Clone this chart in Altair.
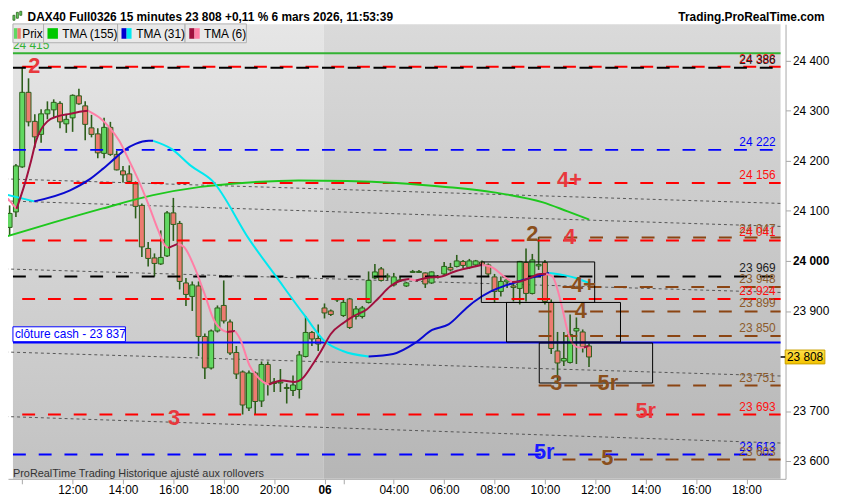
import altair as alt
import pandas as pd

FONT = "Liberation Sans"

# ---------------- data ----------------
bar_idx = list(range(-10, 83))  # 15-minute bars, 0 = 12:00 (5 March)
opens = [24067, 24098, 24188, 24337, 24279, 24253, 24294, 24302, 24315, 24274,
         24286, 24330, 24310, 24266, 24254, 24215, 24267, 24213, 24180, 24174,
         24154, 24111, 24025, 24006, 23994, 24010, 24096, 24075, 23956, 23929,
         23950, 23849, 23786, 23860, 23911, 23878, 23817, 23778, 23706, 23776,
         23720, 23793, 23755, 23756, 23747, 23741, 23743, 23809, 23857, 23845,
         23906, 23900, 23922, 23891, 23924, 23889, 23889, 23917, 23966, 23984,
         23968, 23952, 23962, 23950, 23977, 23977, 23976, 23956, 23968, 23974,
         23987, 23989, 23999, 23987, 23992, 23998, 23992, 23968, 23939, 23958,
         23950, 23945, 23997, 23935, 23990, 23997, 23917, 23820, 23800, 23797,
         23860, 23858, 23830]
closes = [24095, 24190, 24337, 24278, 24248, 24294, 24302, 24317, 24278, 24283,
          24331, 24314, 24273, 24253, 24216, 24267, 24213, 24182, 24172, 24159,
          24109, 24028, 24005, 23995, 24007, 24096, 24073, 23959, 23933, 23952,
          23849, 23786, 23860, 23906, 23880, 23816, 23774, 23712, 23776, 23719,
          23793, 23755, 23758, 23758, 23745, 23752, 23812, 23857, 23844, 23834,
          23896, 23893, 23924, 23917, 23867, 23904, 23906, 23961, 23978, 23961,
          23970, 23968, 23960, 23956, 23979, 23979, 23954, 23978, 23969, 23989,
          23982, 24000, 23991, 24000, 24000, 23993, 23974, 23939, 23959, 23962,
          23947, 23999, 23935, 24002, 23993, 23919, 23825, 23796, 23805, 23853,
          23865, 23829, 23808]
highs = [24111, 24194, 24388, 24365, 24293, 24303, 24319, 24323, 24319, 24293,
         24333, 24344, 24319, 24292, 24265, 24286, 24278, 24220, 24190, 24191,
         24159, 24115, 24038, 24015, 24061, 24100, 24126, 24080, 23966, 23959,
         23959, 23855, 23863, 23911, 23961, 23883, 23830, 23781, 23781, 23779,
         23799, 23799, 23766, 23784, 23755, 23771, 23820, 23890, 23860, 23873,
         23915, 23903, 23926, 23924, 23926, 23910, 23910, 23979, 23994, 23988,
         23975, 23976, 23968, 23958, 23982, 23982, 23977, 23979, 23972, 23998,
         23996, 24012, 24002, 24004, 24002, 24001, 23995, 23974, 23969, 23964,
         23959, 24000, 24025, 24014, 24048, 24002, 23923, 23858, 23858, 23893,
         23887, 23863, 23836]
lows = [24051, 24088, 24186, 24269, 24226, 24236, 24283, 24286, 24265, 24256,
        24258, 24312, 24241, 24247, 24205, 24205, 24210, 24181, 24157, 24155,
        24085, 24008, 23989, 23969, 23992, 24008, 24040, 23943, 23910, 23900,
        23810, 23764, 23783, 23857, 23875, 23812, 23764, 23693, 23700, 23693,
        23708, 23731, 23738, 23738, 23715, 23730, 23725, 23807, 23830, 23820,
        23885, 23890, 23918, 23888, 23864, 23883, 23885, 23915, 23964, 23959,
        23962, 23949, 23958, 23948, 23976, 23976, 23946, 23954, 23965, 23972,
        23979, 23987, 23986, 23984, 23989, 23990, 23970, 23917, 23929, 23946,
        23919, 23913, 23919, 23933, 23982, 23913, 23814, 23755, 23790, 23795,
        23794, 23817, 23788]

tma155_x = [-10.7, -3.0, 4.8, 12.6, 20.3, 28.1, 35.9, 43.6, 51.4, 59.2, 66.9, 74.7, 78.6, 82.0]
tma155_y = [24048, 24077, 24105, 24131, 24148, 24157, 24161, 24160, 24156, 24148, 24137, 24117, 24099, 24083]

CYAN, BLUE = "#00e8f0", "#0a0ad0"
tma31_segments = [
    (CYAN, [-10.7, -6.1], [24133, 24119]),
    (BLUE, [-6.1, -0.4, 2.8, 4.8, 6.9, 8.4, 10.0, 12.1, 12.8],
     [24119, 24141, 24164, 24184, 24207, 24223, 24234, 24240, 24240]),
    (CYAN, [12.8, 15.7, 18.8, 22.2, 28.1, 32.3, 36.9, 40.0, 42.9, 47.0],
     [24240, 24224, 24190, 24160, 24042, 23969, 23890, 23840, 23820, 23809]),
    (BLUE, [47.0, 50.9, 54.5, 57.1, 59.7, 62.3, 63.8, 66.4, 69.0, 71.6, 74.2, 75.7],
     [23809, 23814, 23837, 23862, 23873, 23903, 23919, 23939, 23952, 23962, 23971, 23976]),
    (CYAN, [75.7, 77.8, 79.9, 81.9], [23976, 23972, 23966, 23956]),
]

PINK, DRED = "#ff7fa6", "#a0103e"
tma6_segments = [
    (PINK, [-10.7, -8.9], [24131, 24104]),
    (DRED, [-8.9, -7.6, -6.6, -5.8, -5.0, -4.0, -2.4, -0.4, 1.7, 2.5],
     [24104, 24154, 24200, 24240, 24263, 24279, 24289, 24294, 24299, 24300]),
    (PINK, [2.5, 4.3, 5.9, 7.4, 9.0, 10.5, 12.1, 13.6, 14.6, 15.2],
     [24300, 24286, 24266, 24240, 24200, 24160, 24111, 24061, 24032, 24026]),
    (DRED, [15.2, 16.7], [24026, 24034]),
    (PINK, [16.7, 17.7, 19.3, 20.9, 22.4, 24.0, 24.5],
     [24034, 24028, 23989, 23936, 23883, 23860, 23858]),
    (DRED, [24.5, 25.8], [23858, 23860]),
    (PINK, [25.8, 26.6, 28.1, 29.7, 30.7, 31.2], [23860, 23844, 23791, 23764, 23755, 23753]),
    (DRED, [31.2, 33.3, 35.3, 36.4, 38.0, 39.5, 41.0, 43.1, 44.7, 46.7, 48.6, 50.4, 52.4, 53.5],
     [23753, 23761, 23758, 23764, 23791, 23821, 23854, 23877, 23890, 23903, 23926, 23949, 23962, 23964]),
    (PINK, [53.5, 54.5], [23964, 23961]),
    (DRED, [54.5, 56.1, 58.6, 60.7, 62.8, 64.9], [23961, 23966, 23969, 23979, 23986, 23992]),
    (PINK, [64.9, 66.1, 66.9, 68.5, 69.8], [23992, 23990, 23985, 23969, 23958]),
    (DRED, [69.8, 71.1, 72.6, 74.2, 75.2], [23958, 23959, 23966, 23974, 23974]),
    (PINK, [75.2, 76.2, 77.0, 77.8, 78.6, 79.3, 80.4, 81.2],
     [23974, 23969, 23943, 23903, 23860, 23837, 23827, 23827]),
    (DRED, [81.2, 81.9], [23827, 23830]),
]

trend_start = [-10.7, -10.7, -10.7, -10.7, -10.7]
trend_end = [112.42, 112.42, 112.42, 112.42, 112.42]
trend_p0 = [24164, 24120, 23984, 23818, 23689]
trend_p1 = [24115, 24069, 23937, 23770, 23636]

RED, BLACK, BLUE_L, BROWN = "#ff0000", "#000000", "#0000ff", "#8b4513"
level_price = [24388, 24386, 24222, 24156, 24047, 24041, 23969, 23948, 23924,
               23899, 23850, 23751, 23693, 23613, 23603]
level_start = [-8, -9.47, -9.47, -8, 74, -8, -9.47, 77.8, -8, 74, 74, 74, -8, -9.47, 77.8]
level_color = [RED, BLACK, BLUE_L, RED, BROWN, RED, BLACK, BROWN, RED, BROWN, BROWN,
               BROWN, RED, BLUE_L, BROWN]

solid_price = [24415, 23837]
solid_color = ["#33b233", "#0000ff"]

TXT_BROWN = "#8b5a2b"
label_text = ["24 388", "24 386", "24 222", "24 156", "24 047", "24 041", "23 969", "23 948",
              "23 924", "23 899", "23 850", "23 751", "23 693", "23 613", "23 603"]
label_price = [24388, 24386, 24222, 24156, 24047, 24041, 23969, 23948, 23924, 23899,
               23850, 23751, 23693, 23613, 23603]
label_color = ["#ff1010", "#222222", "#0000ff", "#ff1010", TXT_BROWN, "#ff1010", "#222222",
               TXT_BROWN, "#ff1010", TXT_BROWN, TXT_BROWN, TXT_BROWN, "#ff1010", "#0000ff", TXT_BROWN]

box_x0 = [64.9, 68.9, 74.1]
box_x1 = [82.9, 87.0, 92.1]
box_p0 = [23917, 23838, 23756]
box_p1 = [23998, 23917, 23836]

A_RED, A_BROWN, A_BLUE = "#e8383d", "#8a4f1c", "#1a1aff"
ann_text = ["2", "3", "4+", "4", "5r", "2", "4+", "4", "3", "5r", "5r", "5"]
ann_color = [A_RED, A_RED, A_RED, A_RED, A_RED, A_BROWN, A_BROWN, A_BROWN, A_BROWN,
             A_BROWN, A_BLUE, A_BROWN]
ann_x = [-6.1, 16.1, 78.9, 78.9, 91.0, 73.0, 81.1, 80.7, 76.8, 85.0, 74.9, 84.9]
ann_p = [24389, 23685, 24161, 24048, 23699, 24054, 23952, 23899, 23755, 23755, 23617, 23605]

tick_vals = [-8, 0, 8, 16, 24, 32, 40, 43, 51, 59, 67, 75, 83, 91, 99, 107]
tick_text = ["", "12:00", "14:00", "16:00", "18:00", "20:00", "06", "", "04:00", "06:00",
             "08:00", "10:00", "12:00", "14:00", "16:00", "18:00"]
# 23 800 is hidden behind the current-price tag in the reference
price_ticks = [23600, 23700, 23900, 24000, 24100, 24200, 24300, 24400]
last_price = 23808
day_break = 39.9

# ---------------- geometry ----------------
W, H = 785, 459
X0, X1 = -9.472, 112.422
Y0, Y1 = 23564.4, 24473.2
PXB = W / (X1 - X0)
PYB = H / (Y1 - Y0)


def PX(px):
    return X0 + px / PXB


def PY(py):
    return Y1 - py / PYB


xs = alt.Scale(domain=[X0, X1], nice=False, zero=False)
ys = alt.Scale(domain=[Y0, Y1], nice=False, zero=False)

lab_expr = ""
for v, t in zip(tick_vals, tick_text):
    lab_expr += f"datum.value == {v} ? '{t}' : "
lab_expr += "''"

AX = alt.Axis(
    values=tick_vals, labelExpr=lab_expr, title=None, grid=False, orient="bottom",
    domainColor="#a8a8a8", tickColor="#a8a8a8", tickSize=5, labelPadding=1,
    labelFont=FONT, labelFontSize=12, labelColor="#000000", labelFlush=False,
    labelOverlap=False,
    labelFontWeight={"condition": {"test": "datum.value == 40", "value": "bold"}, "value": "normal"})
AY = alt.Axis(
    values=price_ticks, orient="right", title=None, grid=False,
    labelExpr="replace(format(datum.value, ','), ',', ' ')",
    domainColor="#a8a8a8", tickColor="#a8a8a8", tickSize=5, labelPadding=2,
    labelFont=FONT, labelFontSize=12, labelColor="#000000", labelOverlap=False,
    labelFlush=False,
    labelFontWeight={"condition": {"test": "datum.value == 24000", "value": "bold"}, "value": "normal"})


def X(f):
    return alt.X(f, type="quantitative", scale=xs, axis=AX)


def Y(f):
    return alt.Y(f, type="quantitative", scale=ys, axis=AY)


LC = alt.Color("c:N", scale=None)


def grad(a, b):
    return {"gradient": "linear", "x1": 0, "y1": 0, "x2": 0, "y2": 1,
            "stops": [{"offset": 0, "color": a}, {"offset": 1, "color": b}]}


def rect_df(x, x2, y, y2, **extra):
    d = {"x": x, "x2": x2, "y": y, "y2": y2}
    d.update(extra)
    return pd.DataFrame(d)


def rect_enc(ch):
    return ch.encode(x=X("x"), x2="x2:Q", y=Y("y"), y2="y2:Q")


# ---------------- background ----------------
bg_left = rect_enc(alt.Chart(rect_df([X0], [day_break], [Y0], [Y1])).mark_rect(
    fill=grad("#e6e6e6", "#c2c2c2")))
bg_right = rect_enc(alt.Chart(rect_df([day_break], [X1], [Y0], [Y1])).mark_rect(
    fill=grad("#dadada", "#b6b6b6")))

# ---------------- trend lines ----------------
trend = rect_enc(alt.Chart(rect_df(trend_start, trend_end, trend_p0, trend_p1)).mark_rule(
    color="#555555", strokeWidth=1, strokeDash=[3, 3]))

# ---------------- candles ----------------
cdf = pd.DataFrame({"i": bar_idx, "o": opens, "h": highs, "l": lows, "cl": closes})
cdf["c"] = ["#62d862" if c >= o else "#ec7b70" for o, c in zip(opens, closes)]
OUT = "#2c5e1a"
wicks = alt.Chart(cdf).mark_rule(color=OUT, strokeWidth=1.6).encode(
    x=X("i"), y=Y("l"), y2="h:Q")
bodies = alt.Chart(cdf).mark_bar(size=5, stroke=OUT, strokeWidth=1).encode(
    x=X("i"), y=Y("o"), y2="cl:Q", fill=alt.Fill("c:N", scale=None))

# ---------------- levels ----------------
lvl_df = pd.DataFrame({"y": level_price, "x": level_start, "c": level_color})
lvl_df["x2"] = X1
levels = alt.Chart(lvl_df).mark_rule(strokeWidth=2, strokeDash=[13, 13]).encode(
    x=X("x"), x2="x2:Q", y=Y("y"), color=LC)
sol_df = pd.DataFrame({"y": solid_price, "c": solid_color})
sol_df["x"] = X0
sol_df["x2"] = X1
solids = alt.Chart(sol_df).mark_rule(strokeWidth=2).encode(
    x=X("x"), x2="x2:Q", y=Y("y"), color=LC)

# ---------------- TMA lines ----------------
t155 = alt.Chart(pd.DataFrame({"x": tma155_x, "y": tma155_y})).mark_line(
    color="#1ec81e", strokeWidth=2, interpolate="monotone", clip=True).encode(x=X("x"), y=Y("y"))


def seg_df(segs):
    rows = []
    for k, (col, sx, sy) in enumerate(segs):
        for a, b in zip(sx, sy):
            rows.append({"x": a, "y": b, "s": f"s{k}", "c": col})
    return pd.DataFrame(rows)


t31 = alt.Chart(seg_df(tma31_segments)).mark_line(
    strokeWidth=2, interpolate="monotone", clip=True).encode(
    x=X("x"), y=Y("y"), detail="s:N", color=LC)
t6 = alt.Chart(seg_df(tma6_segments)).mark_line(
    strokeWidth=2, interpolate="monotone", clip=True).encode(
    x=X("x"), y=Y("y"), detail="s:N", color=LC)

# ---------------- boxes ----------------
boxes = rect_enc(alt.Chart(rect_df(box_x0, box_x1, box_p0, box_p1)).mark_rect(
    fillOpacity=0, stroke="#000000", strokeWidth=1))

# ---------------- texts ----------------
lab_df = pd.DataFrame({"t": label_text, "y": label_price, "c": label_color})
lab_df["x"] = PX(780)
labels = alt.Chart(lab_df).mark_text(align="right", baseline="alphabetic", dy=-4,
                                     font=FONT, fontSize=12).encode(
    x=X("x"), y=Y("y"), text="t:N", color=LC)

ann_df = pd.DataFrame({"t": ann_text, "x": ann_x, "y": ann_p, "c": ann_color})
anns = alt.Chart(ann_df).mark_text(align="center", baseline="middle", font=FONT,
                                   fontSize=22, fontWeight="bold").encode(
    x=X("x"), y=Y("y"), text="t:N", color=LC)


def text_layer(px, py, t, align="left", size=12, weight="normal", color="#000000"):
    return alt.Chart(pd.DataFrame({"x": [PX(px)], "y": [PY(py)], "t": [t]})).mark_text(
        align=align, baseline="middle", font=FONT, fontSize=size, fontWeight=weight,
        color=color).encode(x=X("x"), y=Y("y"), text="t:N")


cl_box = rect_enc(alt.Chart(rect_df([PX(0)], [PX(115)], [PY(305.5)], [PY(320.5)])).mark_rect(
    fill="#ffffff", stroke="#0000ff", strokeWidth=1))
cl_txt = text_layer(2, 313, "clôture cash -  23 837", color="#0000ff")
note = text_layer(0, 454, "ProRealTime Trading  Historique ajusté aux rollovers", size=11, color="#333333")
g_lab = text_layer(0, 21, "24 415", color="#33b233")

# ---------------- legend ----------------
leg_x0 = [0, 31.3, 107, 176]
leg_x1 = [31.3, 107, 176, 238.7]
leg_box = rect_enc(alt.Chart(rect_df([PX(v) for v in leg_x0], [PX(v) for v in leg_x1],
                                     [PY(-0.3)] * 4, [PY(18.7)] * 4)).mark_rect(
    fill="#e9e9e9", stroke="#b0b0b0", strokeWidth=1))
sw_x0 = [1, 4.5, 35.3, 111, 116.2, 180.3, 185.6]
sw_x1 = [4.5, 8, 46, 116.2, 121.3, 185.6, 191]
sw_c = ["#62d862", "#ec7b70", "#00c800", "#0000d0", "#00e8f0", "#a0103e", "#ff7fa6"]
leg_sw = alt.Chart(rect_df([PX(v) for v in sw_x0], [PX(v) for v in sw_x1],
                           [PY(4)] * 7, [PY(14.7)] * 7, c=sw_c)).mark_rect().encode(
    x=X("x"), x2="x2:Q", y=Y("y"), y2="y2:Q", color=LC)
leg_t = alt.Chart(pd.DataFrame({"x": [PX(v) for v in [9.5, 50.3, 126, 195.3]], "y": [PY(9.5)] * 4,
                                "t": ["Prix", "TMA (155)", "TMA (31)", "TMA (6)"]})).mark_text(
    align="left", baseline="middle", font=FONT, fontSize=12, color="#000000").encode(
    x=X("x"), y=Y("y"), text="t:N")

# ---------------- header ----------------
title = text_layer(15, -7, "DAX40 Full0326 15 minutes 23 808 +0,11 % 6 mars 2026, 11:53:39",
                   weight="bold")
brand = text_layer(830, -7, "Trading.ProRealTime.com", align="right", weight="bold")
icon = rect_enc(alt.Chart(rect_df([PX(0), PX(3.5), PX(7)], [PX(2), PX(5.5), PX(9)],
                                  [PY(-4), PY(-6), PY(-9)], [PY(-9), PY(-12), PY(-13)])).mark_rect(
    fill="#62d862", stroke=OUT, strokeWidth=0.8))

# ---------------- current price tag ----------------
half = 7 / PYB
tag = rect_enc(alt.Chart(rect_df([PX(789.7)], [PX(830.3)], [last_price - half],
                                 [last_price + half])).mark_rect(
    fill=grad("#ffe14a", "#f2c200"), stroke="#c9a100", strokeWidth=1))
tag_t = alt.Chart(pd.DataFrame({"x": [PX(810)], "y": [last_price], "t": ["23 808"]})).mark_text(
    align="center", baseline="middle", font=FONT, fontSize=12, color="#000000").encode(
    x=X("x"), y=Y("y"), text="t:N")
tag_tick = alt.Chart(pd.DataFrame({"x": [PX(785)], "x2": [PX(789.7)], "y": [last_price]})).mark_rule(
    color="#000000", strokeWidth=1.5).encode(x=X("x"), x2="x2:Q", y=Y("y"))

chart = alt.layer(
    bg_left, bg_right, trend, wicks, bodies, levels, solids, t155, t31, t6, boxes,
    labels, anns, cl_box, cl_txt, note, g_lab, leg_box, leg_sw, leg_t, title, brand, icon,
    tag, tag_t, tag_tick
).properties(
    width=W, height=H,
    autosize=alt.AutoSizeParams(type="none"),
    padding={"left": 0, "top": 14, "right": 57, "bottom": 19},
    background="#ffffff",
).configure_view(stroke="transparent")

chart.save("out.html", embed_options={"renderer": "svg", "actions": False})
